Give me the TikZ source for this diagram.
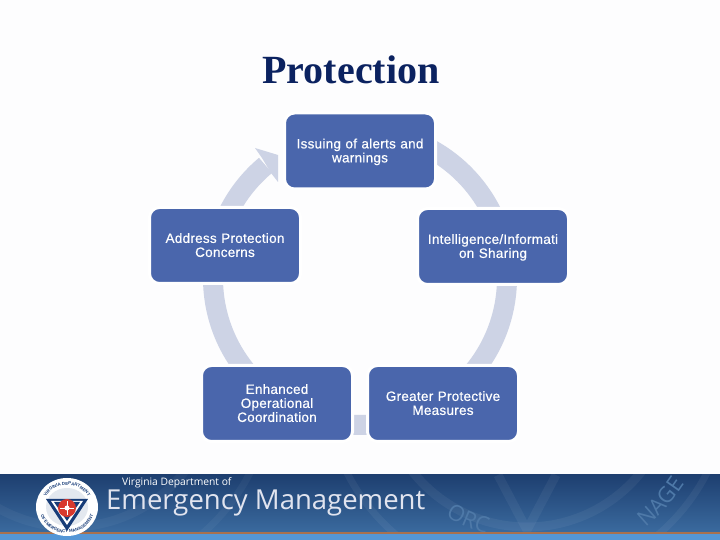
\documentclass[tikz,border=0pt]{standalone}
\usepackage{fontspec}
\setmainfont{Liberation Sans}
\newfontfamily\titlefont{Liberation Serif}
\newfontfamily\bannerfont{Open Sans}
\usetikzlibrary{calc,decorations.text}
\definecolor{boxblue}{HTML}{4A66AC}
\definecolor{ringgrey}{HTML}{CDD3E5}
\definecolor{pagewhite}{HTML}{FDFDFE}
\definecolor{titlenavy}{HTML}{0B2260}
\definecolor{bandtop}{HTML}{1E3F70}
\definecolor{bandlow}{HTML}{3A6A9E}
\definecolor{bandrust}{HTML}{A8714F}
\definecolor{bandsky}{HTML}{5496D6}
\definecolor{sealnavy}{HTML}{173C78}
\definecolor{sealred}{HTML}{D8392E}
\colorlet{bandmark}{bandlow!90!white}
\tikzset{
  cyclebox/.style={fill=boxblue, draw=white, line width=3pt, rounded corners=10pt,
    minimum width=151pt, minimum height=76pt, inner sep=0pt, text width=146pt, align=center,
    text=white, font=\fontsize{13.5}{14}\selectfont\addfontfeature{LetterSpace=2,FakeBold=0.5},
    execute at end node={\rule[-3pt]{0pt}{3pt}\par\vspace*{-2pt}}},
  ringarc/.style={draw=ringgrey, line width=20pt},
  sealtext/.style={decorate, decoration={text along path, text align=center,
    text={|\fontsize{4.3}{5}\selectfont\bfseries\color{sealnavy}|#1}}},
  marktext/.style={decorate, decoration={text along path, text align=center,
    text={|\bannerfont\fontsize{22}{24}\selectfont\color{bandmark}|#1}}}
}

\begin{document}
\begin{tikzpicture}[x=1pt, y=1pt]
  \useasboundingbox (0,0) rectangle (720,540);
  \fill[pagewhite] (0,0) rectangle (720,540);

  \node[font=\titlefont\fontsize{40}{44}\selectfont\bfseries, text=titlenavy] (title) at (351,470) {Protection};

  % ring behind the boxes
  \coordinate (ringc) at (360,262);
  \path (ringc) ++(130:147) coordinate (headbase);
  \draw[ringarc] (headbase) arc[start angle=130, end angle=450, radius=147];
  \fill[ringgrey] (255,392) -- (278,385) -- (278,358) -- (271,367) -- (262,382) -- cycle;

  % boxes
  \node[cyclebox] (issuing) at (360,389) {Issuing of alerts and\\warnings};
  \node[cyclebox] (intel) at (493,293.5) {Intelligence/Informati\\on Sharing};
  \node[cyclebox] (greater) at (443,136.5) {Greater Protective\\Measures};
  \node[cyclebox] (enhanced) at (277,136.5) {Enhanced\\Operational\\Coordination};
  \node[cyclebox] (address) at (225,294.5) {Address Protection\\Concerns};

  % footer band
  \shade[top color=bandtop, bottom color=bandlow] (0,8) rectangle (720,65);
  \begin{scope}
    \clip (0,8) rectangle (720,65);
    \draw[white, opacity=.05, line width=9pt] (527,159) circle[radius=146];
    \draw[white, opacity=.05, line width=7pt] (527,159) circle[radius=202];
    \draw[white, opacity=.05, line width=9pt] (498,65) -- (527,10) -- (556,65);
    \draw[white, opacity=.04, line width=9pt] (70,159) circle[radius=146];
    \draw[white, opacity=.04, line width=7pt] (70,159) circle[radius=202];
    \path[marktext={ORC}] (527,159) ++(236:158) arc[start angle=236, end angle=258, radius=158];
    \path[marktext={NAGE}] (527,159) ++(304:188) arc[start angle=304, end angle=332, radius=188];
  \end{scope}
  \fill[bandrust] (0,6) rectangle (720,8);
  \fill[bandsky] (0,0) rectangle (720,6);

  % seal
  \fill[white] (67,33) ellipse[x radius=31, y radius=29];
  \fill[sealnavy!12] (67,33) ellipse[x radius=21, y radius=19];
  \fill[sealnavy] (46,41) -- (88,41) -- (67,9) -- cycle;
  \fill[white] (51,39) -- (83,39) -- (67,15) -- cycle;
  \fill[sealnavy] (54,38) -- (80,38) -- (67,19) -- cycle;
  \fill[sealred] (67,32) circle[radius=9];
  \fill[white] (67,32) circle[radius=2.5];
  \draw[white, line width=.5pt] (60,32) -- (74,32) (67,25) -- (67,39);
  \path[sealtext={VIRGINIA DEPARTMENT}] (43,33) arc[start angle=180, end angle=0, x radius=24, y radius=22];
  \path[sealtext={OF EMERGENCY MANAGEMENT}] (39,33) arc[start angle=180, end angle=360, x radius=28, y radius=26];

  \node[anchor=west, inner sep=0pt, text=white, font=\bannerfont\fontsize{10.3}{12}\selectfont] (bandsub) at (122,57) {Virginia Department of};
  \node[anchor=west, inner sep=0pt, text=ringgrey!60!white, font=\bannerfont\fontsize{27.5}{32}\selectfont] (bandmain) at (106,37) {Emergency Management};
\end{tikzpicture}
\end{document}
